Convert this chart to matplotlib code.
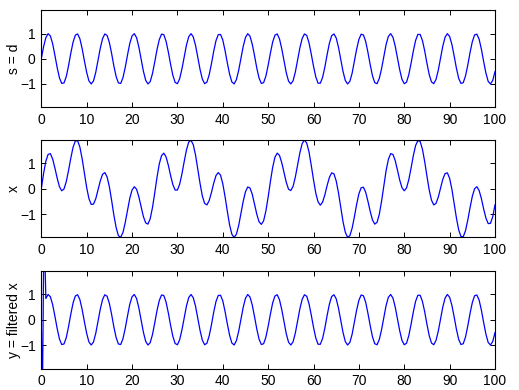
import numpy as np
import matplotlib
matplotlib.use("Agg")
import matplotlib.pyplot as plt

plt.rcParams['font.family'] = ['Liberation Sans', 'DejaVu Sans']

# sample spacing of the signals (time axis 0..100)
t_step = 0.5

# s = d (desired signal), sampled every 0.5
s_vals = [
    0.00, 0.48, 0.84, 1.00, 0.91, 0.60, 0.14, -0.35, -0.76, -0.98,
    -0.96, -0.71, -0.28, 0.22, 0.66, 0.94, 0.99, 0.80, 0.41, -0.08,
    -0.54, -0.88, -1.00, -0.88, -0.54, -0.07, 0.42, 0.80, 0.99, 0.93,
    0.65, 0.21, -0.29, -0.71, -0.96, -0.98, -0.75, -0.34, 0.15, 0.61,
    0.91, 1.00, 0.84, 0.47, -0.01, -0.49, -0.85, -1.00, -0.91, -0.59,
    -0.13, 0.36, 0.76, 0.98, 0.96, 0.70, 0.27, -0.22, -0.66, -0.94,
    -0.99, -0.79, -0.40, 0.08, 0.55, 0.88, 1.00, 0.87, 0.53, 0.06,
    -0.43, -0.81, -0.99, -0.93, -0.64, -0.20, 0.30, 0.72, 0.96, 0.97,
    0.75, 0.33, -0.16, -0.61, -0.92, -1.00, -0.83, -0.46, 0.02, 0.49,
    0.85, 1.00, 0.90, 0.58, 0.12, -0.37, -0.77, -0.98, -0.95, -0.69,
    -0.26, 0.23, 0.67, 0.94, 0.99, 0.79, 0.40, -0.09, -0.56, -0.89,
    -1.00, -0.87, -0.52, -0.05, 0.44, 0.81, 0.99, 0.93, 0.64, 0.19,
    -0.30, -0.72, -0.97, -0.97, -0.74, -0.33, 0.17, 0.62, 0.92, 0.99,
    0.83, 0.46, -0.03, -0.50, -0.86, -1.00, -0.90, -0.58, -0.11, 0.38,
    0.77, 0.98, 0.95, 0.69, 0.25, -0.24, -0.68, -0.95, -0.99, -0.78,
    -0.39, 0.10, 0.57, 0.89, 1.00, 0.86, 0.51, 0.04, -0.44, -0.82,
    -0.99, -0.93, -0.63, -0.18, 0.31, 0.73, 0.97, 0.97, 0.73, 0.32,
    -0.18, -0.63, -0.92, -0.99, -0.82, -0.45, 0.04, 0.51, 0.86, 1.00,
    0.89, 0.57, 0.11, -0.38, -0.78, -0.98, -0.95, -0.68, -0.25, 0.25,
    0.68, 0.95, 0.98, 0.78, 0.38, -0.11, -0.57, -0.90, -1.00, -0.86,
    -0.51,
]

# x (noisy input), sampled every 0.5
x_vals = [
    0.00, 0.60, 1.09, 1.36, 1.39, 1.18, 0.82, 0.42, 0.08, -0.08,
    -0.01, 0.28, 0.72, 1.21, 1.64, 1.89, 1.90, 1.65, 1.19, 0.62,
    0.05, -0.39, -0.62, -0.61, -0.40, -0.05, 0.31, 0.57, 0.64, 0.47,
    0.08, -0.46, -1.05, -1.54, -1.86, -1.92, -1.73, -1.34, -0.85, -0.38,
    -0.05, 0.08, -0.02, -0.32, -0.72, -1.10, -1.35, -1.40, -1.19, -0.75,
    -0.17, 0.45, 0.98, 1.31, 1.41, 1.26, 0.93, 0.52, 0.16, -0.05,
    -0.05, 0.18, 0.59, 1.08, 1.54, 1.85, 1.92, 1.74, 1.33, 0.77,
    0.20, -0.29, -0.58, -0.64, -0.47, -0.15, 0.22, 0.52, 0.64, 0.54,
    0.20, -0.31, -0.89, -1.43, -1.80, -1.93, -1.80, -1.46, -0.98, -0.50,
    -0.12, 0.07, 0.03, -0.22, -0.61, -1.01, -1.31, -1.41, -1.27, -0.88,
    -0.33, 0.29, 0.85, 1.25, 1.41, 1.32, 1.03, 0.63, 0.25, -0.02,
    -0.07, 0.10, 0.47, 0.95, 1.43, 1.79, 1.93, 1.81, 1.46, 0.93,
    0.35, -0.17, -0.52, -0.65, -0.53, -0.24, 0.13, 0.45, 0.63, 0.59,
    0.31, -0.16, -0.74, -1.30, -1.72, -1.92, -1.86, -1.57, -1.12, -0.62,
    -0.20, 0.04, 0.06, -0.14, -0.50, -0.90, -1.24, -1.40, -1.33, -1.01,
    -0.49, 0.13, 0.72, 1.16, 1.39, 1.36, 1.12, 0.74, 0.34, 0.04,
    -0.08, 0.03, 0.36, 0.82, 1.31, 1.71, 1.91, 1.87, 1.57, 1.08,
    0.50, -0.05, -0.45, -0.64, -0.58, -0.33, 0.03, 0.38, 0.60, 0.63,
    0.41, -0.02, -0.58, -1.16, -1.63, -1.89, -1.90, -1.66, -1.24, -0.75,
    -0.30, 0.00, 0.08, -0.07, -0.39, -0.80, -1.16, -1.38, -1.37, -1.11,
    -0.64,
]

# y = filtered x: initial transient (first samples), then it follows s
y_head_t = [0.0, 0.2, 0.6]
y_head_vals = [0.0, -4.0, 4.0]
y_tail_start = 2  # y matches s from sample index 2 (t = 1.0) onward

y_labels = ["s = d", "x", "y = filtered x"]
x_ticks = [0, 10, 20, 30, 40, 50, 60, 70, 80, 90, 100]
y_ticks = [-1, 0, 1]
y_lim = (-1.93, 1.93)
x_lim = (0, 100)

t_s = np.arange(len(s_vals)) * t_step
t_x = np.arange(len(x_vals)) * t_step
t_y = np.concatenate([y_head_t, t_s[y_tail_start:]])
y_vals = np.concatenate([y_head_vals, np.array(s_vals)[y_tail_start:]])

W, H = 519, 390
fig = plt.figure(figsize=(W / 100, H / 100), dpi=100)
fig.patch.set_facecolor('white')

left = 41.3 / W
width = (495.0 - 41.3) / W
panels_px = [(10.3, 107.3), (140.0, 237.5), (271.0, 368.5)]

series = [(t_s, s_vals), (t_x, x_vals), (t_y, y_vals)]

for (top_px, bot_px), (tt, vv), lab in zip(panels_px, series, y_labels):
    ax = fig.add_axes([left, 1 - bot_px / H, width, (bot_px - top_px) / H])
    ax.plot(tt, vv, color=(0, 0, 1), lw=0.9)
    ax.set_xlim(*x_lim)
    ax.set_ylim(*y_lim)
    ax.set_xticks(x_ticks)
    ax.set_yticks(y_ticks)
    ax.tick_params(direction='in', length=3.5, width=0.7, labelsize=10,
                   top=True, right=True, pad=4, colors='black')
    for sp in ax.spines.values():
        sp.set_linewidth(0.8)
        sp.set_color('black')
    ax.set_ylabel(lab, fontsize=10, labelpad=2)
    ax.yaxis.set_label_coords(-0.045, 0.5)

fig.savefig("out.png", dpi=100, facecolor='white')
